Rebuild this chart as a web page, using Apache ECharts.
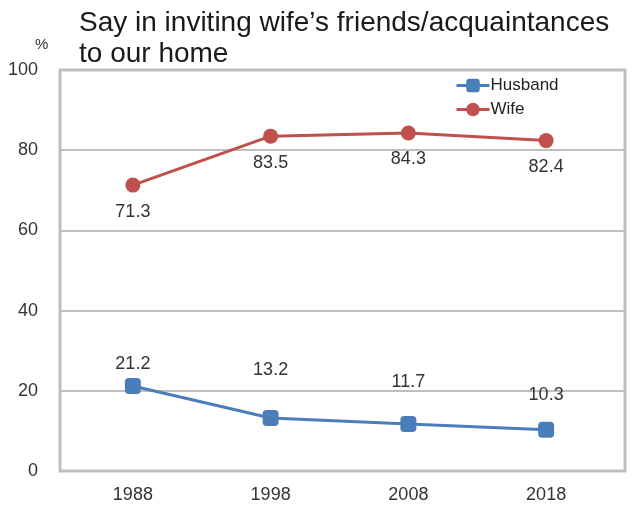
<!DOCTYPE html>
<html><head><meta charset="utf-8">
<script src="https://cdn.jsdelivr.net/npm/echarts@6/dist/echarts.min.js"></script>
<style>html,body{margin:0;padding:0;background:#fff}#c{width:635px;height:508px}</style>
</head><body><div id="c"></div>
<script>
const years = ['1988', '1998', '2008', '2018'];
const husband = [21.2, 13.2, 11.7, 10.3];
const wife = [71.3, 83.5, 84.3, 82.4];
const yTicks = [0, 20, 40, 60, 80, 100];
// label distances (layout only)
const husbandLabelDist = [5, 31, 25, 18];

const font = 'Liberation Sans, Arial, sans-serif';
const chart = echarts.init(document.getElementById('c'), null, {renderer: 'canvas'});
chart.setOption({
  animation: false,
  backgroundColor: '#fff',
  textStyle: {fontFamily: font},
  title: {
    text: 'Say in inviting wife\u2019s friends/acquaintances\nto our home',
    left: 79, top: 8, padding: 0,
    textStyle: {fontFamily: font, fontSize: 28, fontWeight: 'normal', color: '#1a1a1a', lineHeight: 31}
  },
  graphic: [{type: 'text', left: 35, top: 37, style: {text: '%', font: '15px Liberation Sans, Arial, sans-serif', fill: '#333'}}],
  legend: {
    orient: 'vertical', left: 455, top: 77, itemGap: 7, itemWidth: 33, itemHeight: 17, padding: 0,
    lineStyle: {width: 3},
    textStyle: {fontFamily: font, fontSize: 17, color: '#222', padding: [0, 0, 0, -4]},
    data: ['Husband', 'Wife']
  },
  grid: [
    {left: 60, right: 10, top: 70, bottom: 37, show: true, borderColor: '#bfbfbf', borderWidth: 3, backgroundColor: 'transparent'},
    {left: 64, right: 20, top: 70, bottom: 37}
  ],
  xAxis: [
    {type: 'category', gridIndex: 0, data: years, show: false},
    {type: 'category', gridIndex: 1, data: years, boundaryGap: true,
     axisLine: {show: false}, axisTick: {show: false},
     axisLabel: {fontFamily: font, fontSize: 18, color: '#333', margin: 15}}
  ],
  yAxis: [
    {type: 'value', gridIndex: 0, min: 0, max: 100, interval: 20,
     axisLine: {show: false}, axisTick: {show: false},
     axisLabel: {fontFamily: font, fontSize: 18, color: '#333', margin: 22,
       formatter: v => yTicks.includes(v) ? String(v) : ''},
     splitLine: {lineStyle: {color: '#bfbfbf', width: 2}}},
    {type: 'value', gridIndex: 1, min: 0, max: 100, interval: 20, show: false, splitLine: {show: false}}
  ],
  series: [
    {name: 'Husband', type: 'line', xAxisIndex: 1, yAxisIndex: 1,
     data: husband.map((v, i) => ({value: v, label: {distance: husbandLabelDist[i]}})),
     symbol: 'roundRect', symbolSize: 16,
     color: '#4a7ebb', lineStyle: {width: 3, color: '#4a7ebb'},
     itemStyle: {color: '#4a7ebb'},
     label: {show: true, position: 'top', fontFamily: font, fontSize: 18, color: '#333', formatter: p => p.value.toFixed(1)}},
    {name: 'Wife', type: 'line', xAxisIndex: 1, yAxisIndex: 1,
     data: wife, symbol: 'circle', symbolSize: 15,
     color: '#c0504d', lineStyle: {width: 3, color: '#c0504d'},
     itemStyle: {color: '#c0504d'},
     label: {show: true, position: 'bottom', distance: 10, fontFamily: font, fontSize: 18, color: '#333', formatter: p => p.value.toFixed(1)}}
  ]
});
</script></body></html>
